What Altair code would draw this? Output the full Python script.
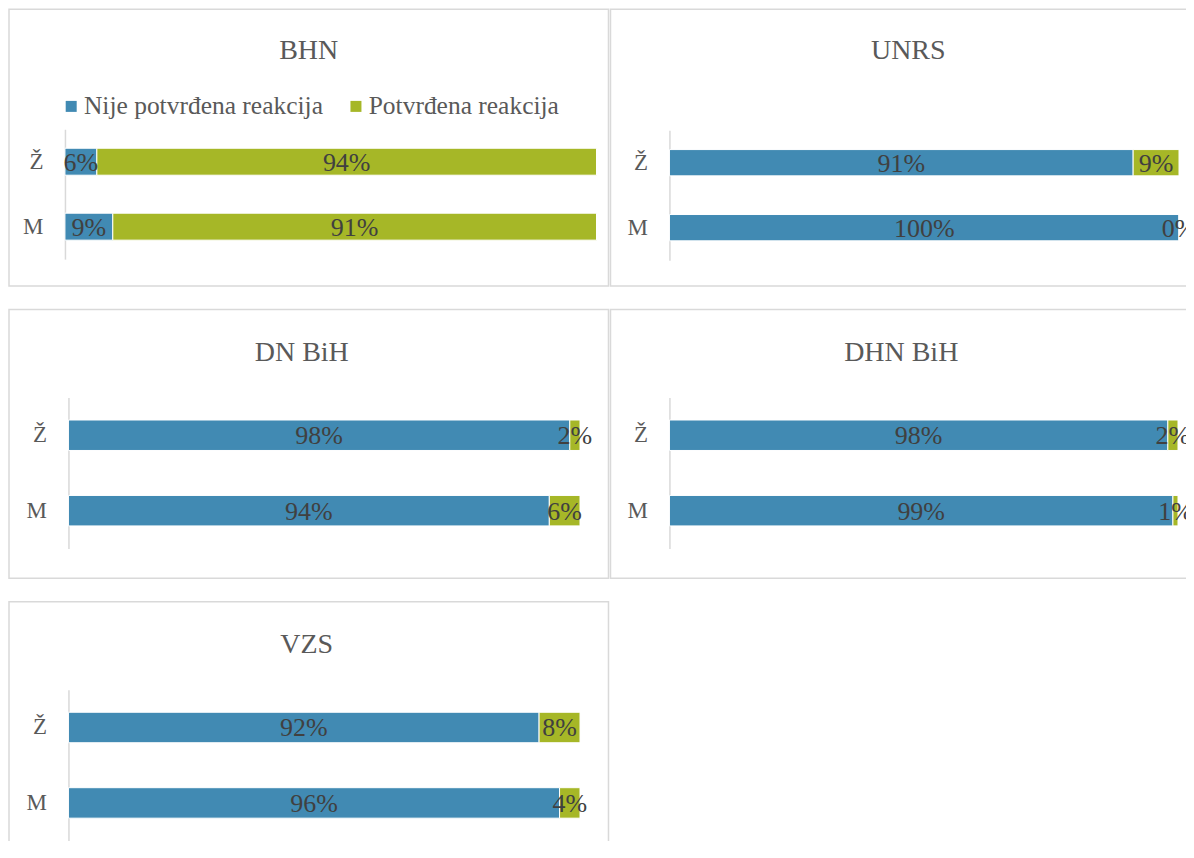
import altair as alt
import pandas as pd

# ---- data ----
panels = ["BHN", "UNRS", "DN BiH", "DHN BiH", "VZS"]
sexes = ["Ž", "M"]
series = ["Nije potvrđena reakcija", "Potvrđena reakcija"]
nije_zene = [6, 91, 98, 98, 92]
nije_muski = [9, 100, 94, 99, 96]
potvrdjena_zene = [94, 9, 2, 2, 8]
potvrdjena_muski = [91, 0, 6, 1, 4]

colors = ["#418AB3", "#A6B727"]
FONT = "Liberation Serif"
GRID = "#D9D9D9"
TXT = "#595959"

# layout per panel (pixels inside each bordered panel); dash hides cut-off edges
layout = {
    "BHN": dict(w=600, h=277, xr=[56, 588], yr=[120, 250], pi=0.585, legend=49.5,
                tx=300, ty=50, dash=None),
    "UNRS": dict(w=600, h=277, xr=[59, 569], yr=[121, 251], pi=0.595, legend=48,
                 tx=298, ty=50, dash=[600, 277, 877]),
    "DN BiH": dict(w=600, h=269, xr=[59.5, 571.5], yr=[88, 239], pi=0.596, legend=None,
                   tx=293, ty=51, dash=None),
    "DHN BiH": dict(w=600, h=269, xr=[59, 568], yr=[88, 239], pi=0.596, legend=None,
                    tx=291, ty=51, dash=[600, 269, 869]),
    "VZS": dict(w=600, h=262, xr=[59.5, 571.5], yr=[88, 239], pi=0.596, legend=None,
                tx=298, ty=51, dash=[862, 600, 262]),
}


def panel_df(i):
    rows = []
    for sex, n, p in [("Ž", nije_zene[i], potvrdjena_zene[i]),
                      ("M", nije_muski[i], potvrdjena_muski[i])]:
        rows.append(dict(sex=sex, series=series[0], start=0.0, end=n / 100,
                         mid=n / 200, label=f"{n}%"))
        rows.append(dict(sex=sex, series=series[1], start=n / 100, end=(n + p) / 100,
                         mid=(n + p / 2) / 100, label=f"{p}%"))
    return pd.DataFrame(rows)


def make_panel(i):
    name = panels[i]
    L = layout[name]
    df = panel_df(i)
    xscale = alt.Scale(domain=[0, 1], range=L["xr"], nice=False, zero=False)
    yscale = alt.Scale(domain=sexes, range=L["yr"], paddingInner=L["pi"],
                       paddingOuter=L["pi"] / 2)
    yaxis = alt.Axis(title=None, orient="left", offset=-L["xr"][0], labelPadding=22,
                     ticks=False, domain=True, domainColor=GRID, domainWidth=1.5,
                     labelFont=FONT, labelFontSize=23, labelColor=TXT,
                     labelAlign="right", labelBaseline="middle", grid=False)
    if L["legend"] is not None:
        legend = alt.Legend(title=None, orient="none", legendX=L["legend"], legendY=84,
                            direction="horizontal", labelFont=FONT, labelFontSize=25.5,
                            labelColor=TXT, symbolType="square", symbolSize=121,
                            symbolStrokeWidth=0, labelOffset=0, columnPadding=20,
                            padding=0, labelLimit=400)
    else:
        legend = None
    bars = alt.Chart(df).mark_bar(stroke="white", strokeWidth=1).encode(
        x=alt.X("start:Q", scale=xscale, axis=None),
        x2=alt.X2("end"),
        y=alt.Y("sex:N", sort=sexes, scale=yscale, axis=yaxis),
        color=alt.Color("series:N", scale=alt.Scale(domain=series, range=colors),
                        legend=legend),
    )
    text = alt.Chart(df).mark_text(font=FONT, fontSize=26, color="#404040",
                                   baseline="middle", dy=1).encode(
        x=alt.X("mid:Q", scale=xscale, axis=None),
        y=alt.Y("sex:N", sort=sexes, scale=yscale, axis=yaxis),
        text="label:N",
    )
    title = alt.Chart(pd.DataFrame({"naslov": [name]})).mark_text(
        font=FONT, fontSize=28, color=TXT, align="center", baseline="alphabetic"
    ).encode(text="naslov:N", x=alt.value(L["tx"]), y=alt.value(L["ty"]))
    if L["dash"]:
        view = alt.ViewBackground(stroke=GRID, strokeWidth=1.5, strokeDash=L["dash"])
    else:
        view = alt.ViewBackground(stroke=GRID, strokeWidth=1.5)
    return alt.layer(bars, text, title).properties(
        width=L["w"], height=L["h"], view=view,
    )


row1 = alt.hconcat(make_panel(0), make_panel(1), spacing=0)
row2 = alt.hconcat(make_panel(2), make_panel(3), spacing=0)
# negative right/bottom padding crops the outer panels at the window edge, as in the source
chart = alt.vconcat(row1, row2, make_panel(4), spacing=21.5).properties(
    padding={"left": 0, "top": 0, "right": -25, "bottom": -24},
    background="white",
)

chart.save("out.html", embed_options={"renderer": "svg", "actions": False})
